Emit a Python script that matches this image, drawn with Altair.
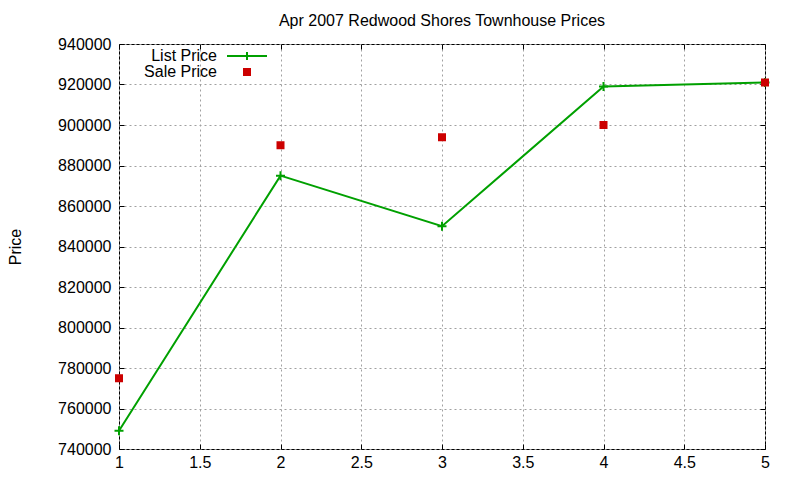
import altair as alt
import pandas as pd

x_vals = [1, 2, 3, 4, 5]
list_price = [749000, 875000, 850000, 919000, 921000]
sale_price = [775000, 890000, 894000, 900000, 921000]
series_names = ["List Price", "Sale Price"]
series_colors = ["#00a000", "#cc0000"]
x_ticks = [1, 1.5, 2, 2.5, 3, 3.5, 4, 4.5, 5]
y_ticks = [740000, 760000, 780000, 800000, 820000, 840000, 860000, 880000, 900000, 920000, 940000]

df = pd.DataFrame({
    "x": x_vals + x_vals,
    "price": list_price + sale_price,
    "series": [series_names[0]] * len(x_vals) + [series_names[1]] * len(x_vals),
})

FONT = "Liberation Sans"
CROSS = "M-1,0H1M0,-1V1"
LEGEND_LINE = "M-4,0H4M0,-0.8V0.8"
SQUARE = "M-0.6,-0.6H0.6V0.6H-0.6Z"

xscale = alt.Scale(domain=[1, 5], nice=False, zero=False)
yscale = alt.Scale(domain=[740000, 940000], nice=False, zero=False)

common_axis = dict(domain=False, offset=-5, tickSize=5, tickColor="black", tickWidth=1,
                   labelFont=FONT, labelFontSize=16, labelColor="black",
                   labelFlush=False, labelOverlap=False, labelBound=False)

x_main = alt.X("x:Q", scale=xscale, axis=alt.Axis(
    values=x_ticks, format="~g", grid=True, gridDash=[2, 3], gridColor="#a0a0a0",
    labelPadding=5, title=None, orient="bottom", **common_axis))
y_main = alt.Y("price:Q", scale=yscale, axis=alt.Axis(
    values=y_ticks, format="d", grid=True, gridDash=[2, 3], gridColor="#a0a0a0",
    labelPadding=8, orient="left", title="Price", titleFont=FONT, titleFontSize=16,
    titleFontWeight="normal", titleColor="black", titleX=-109, titleY=202.5,
    titleAngle=270, titleAlign="center", titleBaseline="middle", **common_axis))

x_top = alt.X("x:Q", scale=xscale, axis=alt.Axis(
    values=x_ticks, labels=False, grid=False, domain=False, offset=-5, tickSize=5,
    tickColor="black", title=None, orient="top"))
y_right = alt.Y("price:Q", scale=yscale, axis=alt.Axis(
    values=y_ticks, labels=False, grid=False, domain=False, offset=-5, tickSize=5,
    tickColor="black", title=None, orient="right"))

list_df = df[df["series"] == series_names[0]]
sale_df = df[df["series"] == series_names[1]]

line = alt.Chart(list_df).mark_line(color=series_colors[0], strokeWidth=2).encode(
    x=x_main, y=y_main)

crosses = alt.Chart(list_df).mark_point(
    shape=CROSS, size=81, filled=False, strokeWidth=2, color=series_colors[0], opacity=1
).encode(x=x_top, y=y_right)

legend = alt.Legend(title=None, orient="none", legendX=120, legendY=4,
                    labelAlign="right", labelOffset={"expr": "-38"}, labelFont=FONT,
                    labelFontSize=16, labelColor="black", symbolSize=100,
                    symbolStrokeWidth=2, padding=0, rowPadding=0, symbolOpacity=1)

sales = alt.Chart(sale_df).mark_point(filled=False, strokeWidth=2, opacity=1).encode(
    x=alt.X("x:Q", scale=xscale, axis=None),
    y=alt.Y("price:Q", scale=yscale, axis=None),
    shape=alt.Shape("series:N", scale=alt.Scale(domain=series_names, range=[LEGEND_LINE, SQUARE]), legend=legend),
    fill=alt.Fill("series:N", scale=alt.Scale(domain=series_names, range=series_colors), legend=legend),
    stroke=alt.Stroke("series:N", scale=alt.Scale(domain=series_names, range=series_colors), legend=legend),
    size=alt.value(100),
)

chart = alt.layer(line, crosses, sales).resolve_axis(x="independent", y="independent").properties(
    width=646, height=405,
    title=alt.TitleParams("Apr 2007 Redwood Shores Townhouse Prices", font=FONT, fontSize=16,
                          fontWeight="normal", color="black", offset=7),
    autosize=alt.AutoSizeParams(type="none"),
    padding={"left": 111, "top": 36, "right": 27, "bottom": 23},
    background="white",
).configure_view(stroke="black", strokeWidth=1)

chart.save("out.html", embed_options={"renderer": "svg", "actions": False})
